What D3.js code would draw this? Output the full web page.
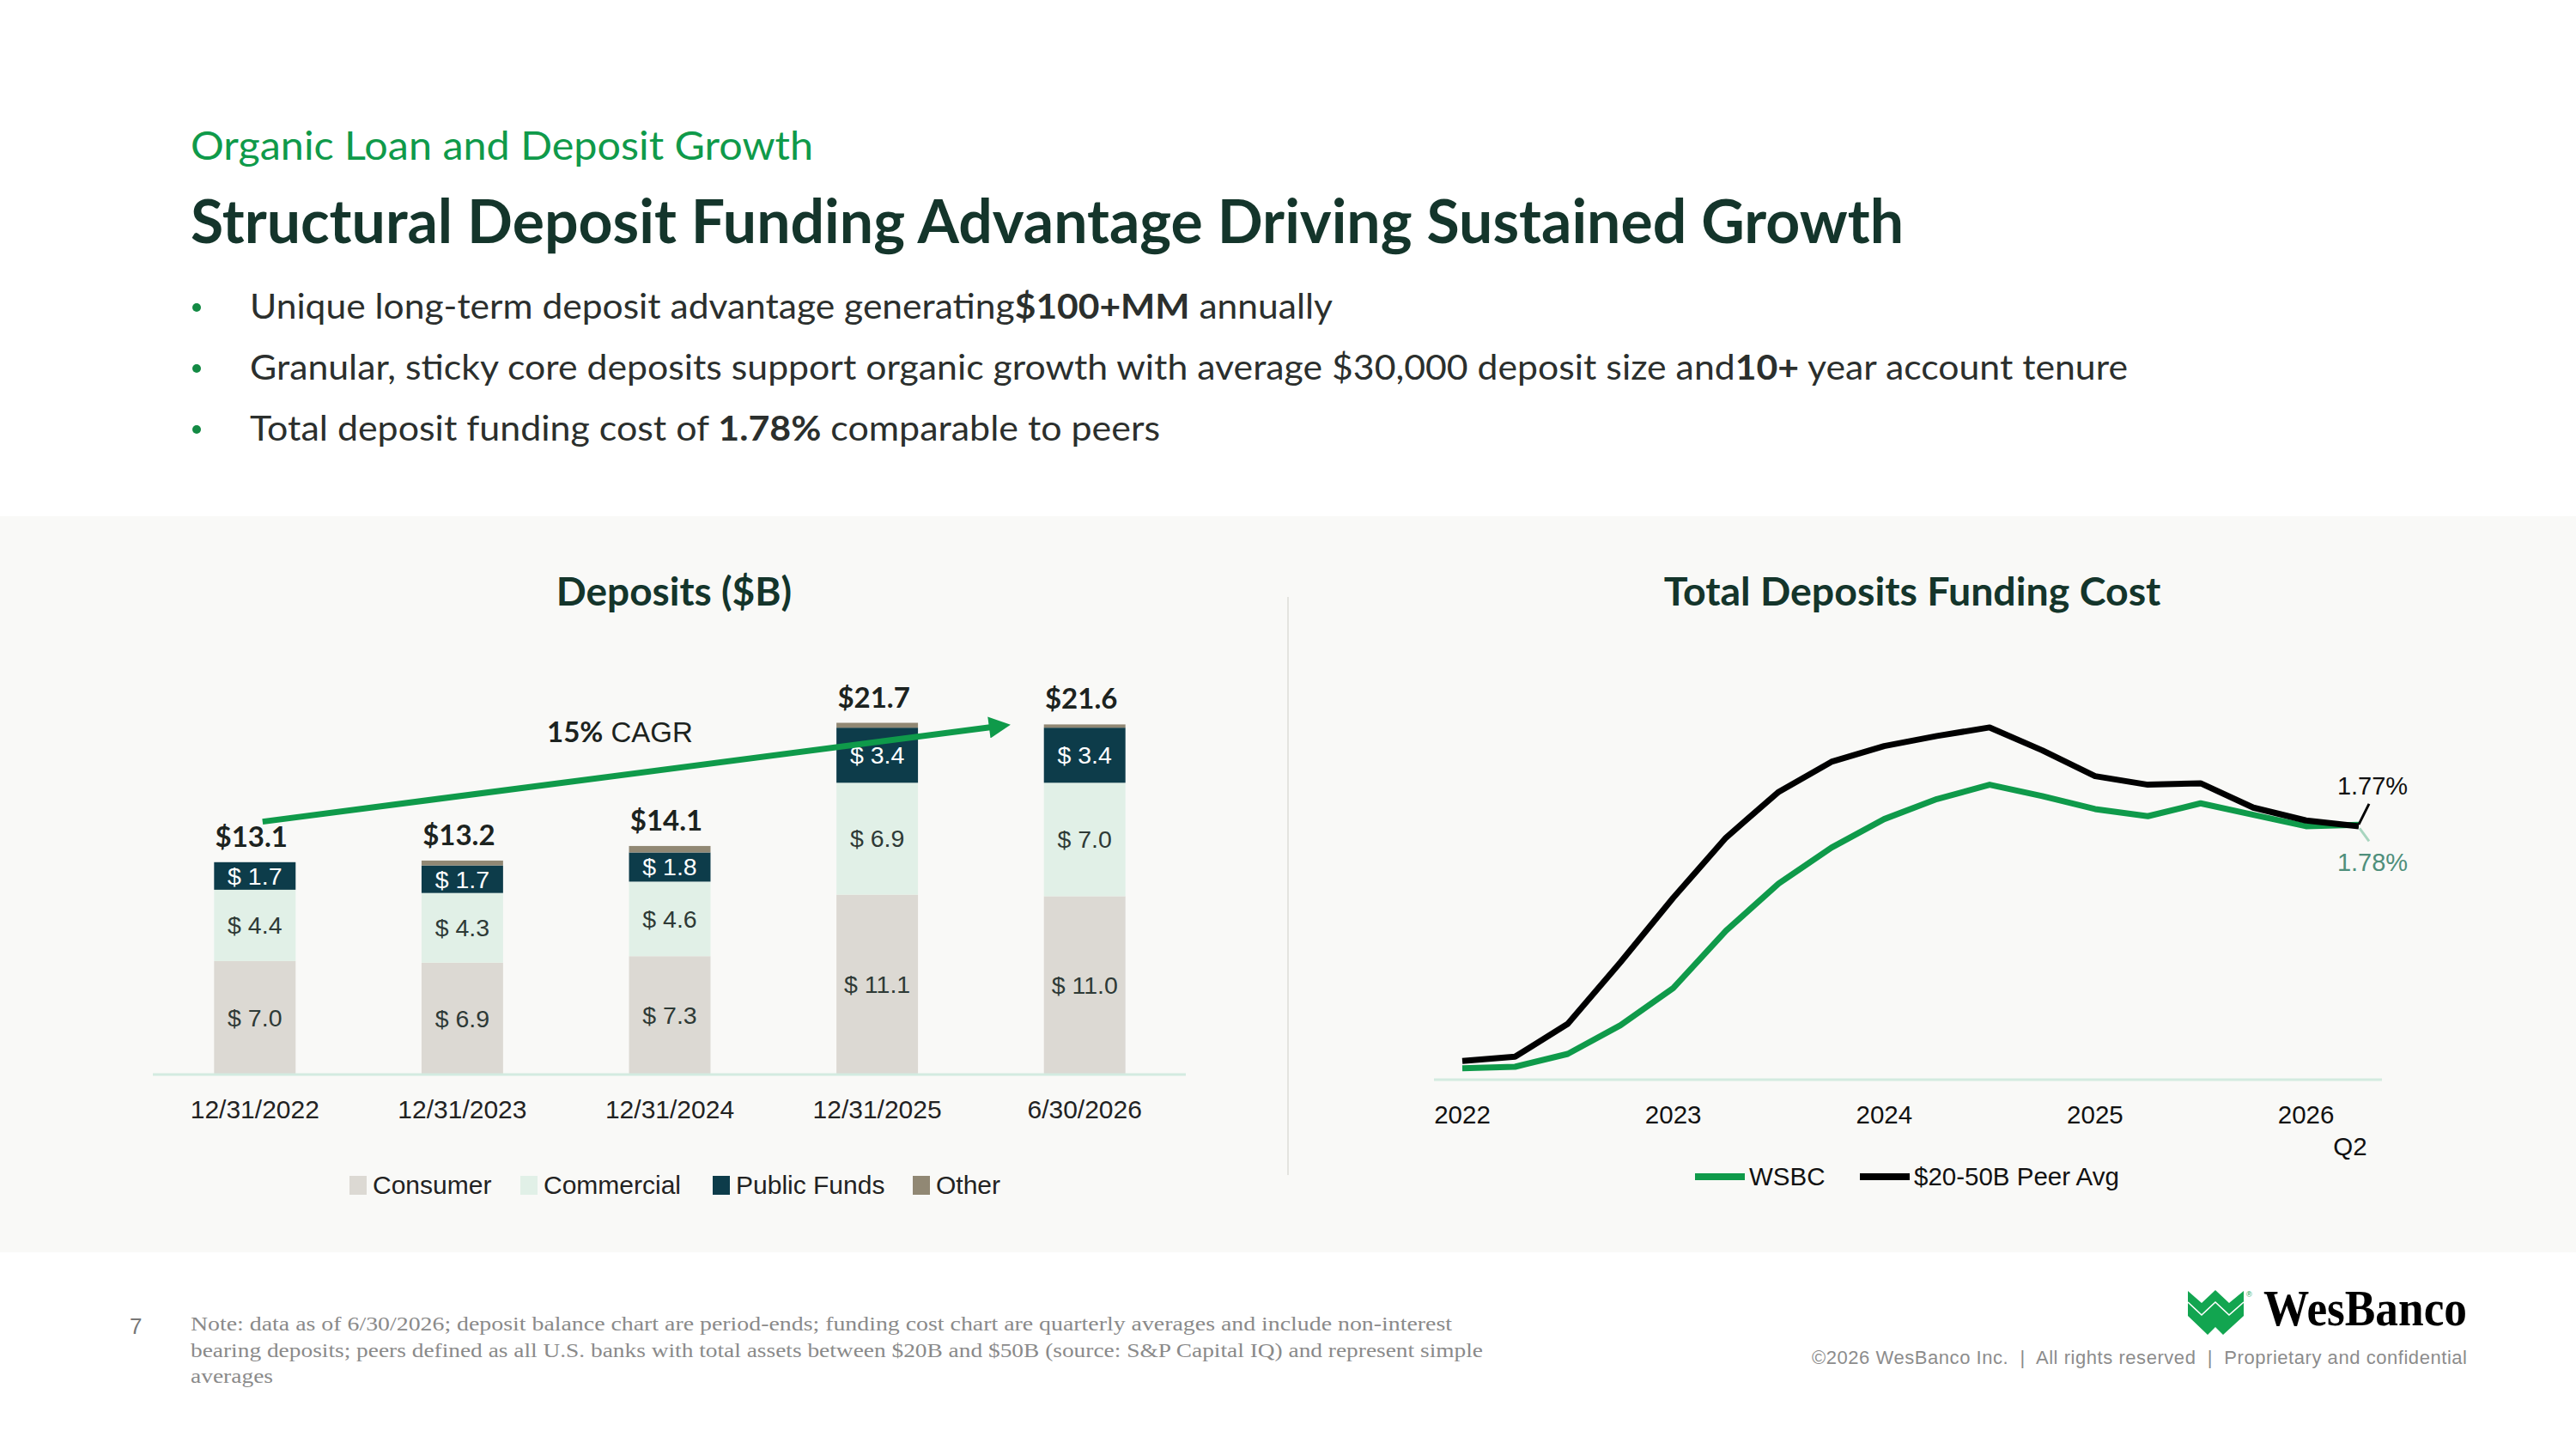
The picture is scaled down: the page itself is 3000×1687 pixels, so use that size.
<!DOCTYPE html>
<html>
<head>
<meta charset="utf-8">
<script src="https://cdn.jsdelivr.net/npm/d3@7"></script>
<style>
  html, body { margin: 0; padding: 0; background: #ffffff; }
  svg { display: block; }
</style>
</head>
<body>
<div id="slide"></div>
<script>
// ---- data ----
var categories  = ["12/31/2022", "12/31/2023", "12/31/2024", "12/31/2025", "6/30/2026"];
var consumer    = [7.0, 6.9, 7.3, 11.1, 11.0];
var commercial  = [4.4, 4.3, 4.6, 6.9, 7.0];
var publicFunds = [1.7, 1.7, 1.8, 3.4, 3.4];
var other       = [0.0, 0.3, 0.4, 0.3, 0.2];
var totals      = [13.1, 13.2, 14.1, 21.7, 21.6];
var seriesNames = ["Consumer", "Commercial", "Public Funds", "Other"];

var quarters = ["Q1 2022", "Q2 2022", "Q3 2022", "Q4 2022",
                "Q1 2023", "Q2 2023", "Q3 2023", "Q4 2023",
                "Q1 2024", "Q2 2024", "Q3 2024", "Q4 2024",
                "Q1 2025", "Q2 2025", "Q3 2025", "Q4 2025",
                "Q1 2026", "Q2 2026"];
var wsbc = [0.08, 0.09, 0.18, 0.38, 0.64, 1.04, 1.37, 1.62, 1.82, 1.96, 2.06, 1.98, 1.89, 1.84, 1.93, 1.85, 1.77, 1.78];
var peer = [0.13, 0.16, 0.39, 0.82, 1.27, 1.69, 2.01, 2.22, 2.33, 2.40, 2.46, 2.30, 2.12, 2.06, 2.07, 1.90, 1.81, 1.77];
var yearTicks = ["Q1 2022", "Q1 2023", "Q1 2024", "Q1 2025", "Q1 2026"];
var yearLabels = ["2022", "2023", "2024", "2025", "2026"];

var W = 3000, H = 1687;
var green = "#0f9a4a", dark = "#14352b", text = "#2b2f2d";
var colors = { "Consumer": "#dcd9d3", "Commercial": "#e1f0e7", "Public Funds": "#0d3c4a", "Other": "#918874" };
var labelFont = "'Liberation Sans', Arial, sans-serif";
var headFont = "Lato, 'Noto Sans', sans-serif";

var svg = d3.select("#slide").append("svg")
    .attr("width", W).attr("height", H)
    .attr("viewBox", "0 0 " + W + " " + H);

// ---- header ----
svg.append("text")
    .attr("x", 222).attr("y", 186)
    .attr("font-family", headFont).attr("font-size", 47)
    .attr("fill", green)
    .attr("textLength", 725).attr("lengthAdjust", "spacingAndGlyphs")
    .text("Organic Loan and Deposit Growth");

svg.append("text")
    .attr("x", 222).attr("y", 283)
    .attr("font-family", headFont).attr("font-size", 71).attr("font-weight", 700)
    .attr("fill", dark)
    .attr("textLength", 1995).attr("lengthAdjust", "spacingAndGlyphs")
    .text("Structural Deposit Funding Advantage Driving Sustained Growth");

var bullets = [
  { y: 371, len: 1261, parts: [["Unique long-term deposit advantage generating", 400], ["$100+MM", 700], [" annually", 400]] },
  { y: 442, len: 2187, parts: [["Granular, sticky core deposits support organic growth with average $30,000 deposit size and", 400], ["10+", 700], [" year account tenure", 400]] },
  { y: 513, len: 1060, parts: [["Total deposit funding cost of ", 400], ["1.78%", 700], [" comparable to peers", 400]] }
];
bullets.forEach(function(b) {
  svg.append("circle").attr("cx", 229).attr("cy", b.y - 13).attr("r", 5).attr("fill", "#138a44");
  var t = svg.append("text")
      .attr("x", 291).attr("y", b.y)
      .attr("font-family", headFont).attr("font-size", 41)
      .attr("fill", text)
      .attr("textLength", b.len).attr("lengthAdjust", "spacingAndGlyphs");
  b.parts.forEach(function(p) {
    t.append("tspan").attr("font-weight", p[1]).text(p[0]);
  });
});

// ---- grey panel ----
svg.append("rect").attr("x", 0).attr("y", 601).attr("width", W).attr("height", 857).attr("fill", "#f9f9f7");
svg.append("line").attr("x1", 1500).attr("x2", 1500).attr("y1", 695).attr("y2", 1368)
    .attr("stroke", "#e4e4e0").attr("stroke-width", 2);

// ---- deposits bar chart ----
svg.append("text")
    .attr("x", 785).attr("y", 705).attr("text-anchor", "middle")
    .attr("font-family", headFont).attr("font-size", 46).attr("font-weight", 700)
    .attr("fill", dark).text("Deposits ($B)");

var x = d3.scaleBand().domain(categories).range([176, 1384]).paddingInner(0.607).paddingOuter(0.3035);
var y = d3.scaleLinear().domain([0, 22]).range([1251, 1251 - 22 * 18.87]);

var rows = categories.map(function(c, i) {
  return { cat: c, "Consumer": consumer[i], "Commercial": commercial[i], "Public Funds": publicFunds[i], "Other": other[i] };
});
var stacked = d3.stack().keys(seriesNames)(rows);

var barG = svg.append("g");
stacked.forEach(function(layer) {
  var g = barG.append("g").attr("fill", colors[layer.key]);
  g.selectAll("rect").data(layer).enter().append("rect")
      .attr("x", function(d) { return x(d.data.cat); })
      .attr("width", x.bandwidth())
      .attr("y", function(d) { return y(d[1]); })
      .attr("height", function(d) { return y(d[0]) - y(d[1]); });
  if (layer.key === "Other") { return; }
  g.selectAll("text").data(layer).enter().append("text")
      .attr("x", function(d) { return x(d.data.cat) + x.bandwidth() / 2; })
      .attr("y", function(d) { return y((d[0] + d[1]) / 2) + 10; })
      .attr("text-anchor", "middle")
      .attr("font-family", labelFont).attr("font-size", 28.5)
      .attr("fill", layer.key === "Public Funds" ? "#ffffff" : "#2e3a36")
      .text(function(d) { return "$ " + (d[1] - d[0]).toFixed(1); });
});

svg.append("line").attr("x1", 178).attr("x2", 1381).attr("y1", 1251).attr("y2", 1251)
    .attr("stroke", "#d3ebe0").attr("stroke-width", 3);

svg.append("g").selectAll("text").data(categories).enter().append("text")
    .attr("x", function(d) { return x(d) + x.bandwidth() / 2; })
    .attr("y", 1302).attr("text-anchor", "middle")
    .attr("font-family", labelFont).attr("font-size", 30).attr("fill", "#222")
    .text(function(d) { return d; });

svg.append("g").selectAll("text").data(totals).enter().append("text")
    .attr("x", function(d, i) { return x(categories[i]) + x.bandwidth() / 2 - 4; })
    .attr("y", function(d) { return y(d) - 18; })
    .attr("text-anchor", "middle")
    .attr("font-family", headFont).attr("font-size", 33).attr("font-weight", 700)
    .attr("fill", "#1c2320")
    .text(function(d) { return "$" + d.toFixed(1); });

// CAGR arrow, anchored to the first and fourth bars
svg.append("defs").append("marker")
    .attr("id", "head").attr("viewBox", "0 0 10 10")
    .attr("refX", 2).attr("refY", 5)
    .attr("markerWidth", 4.4).attr("markerHeight", 3.6)
    .attr("orient", "auto")
  .append("path").attr("d", "M0,0 L10,5 L0,10 Z").attr("fill", green);

var step = x.step();
svg.append("line")
    .attr("x1", x(categories[0]) + x.bandwidth() / 2 + 9).attr("y1", y(15.6))
    .attr("x2", x(categories[3]) + x.bandwidth() / 2 + 0.56 * step).attr("y2", y(21.45))
    .attr("stroke", green).attr("stroke-width", 7)
    .attr("marker-end", "url(#head)");

var cagr = svg.append("text")
    .attr("x", 637).attr("y", 864)
    .attr("font-family", headFont).attr("font-size", 33).attr("fill", "#1c2320");
cagr.append("tspan").attr("font-weight", 700).text("15%");
cagr.append("tspan").attr("font-family", labelFont).attr("font-size", 33).text(" CAGR");

// legend
var legendX = [407, 606, 830, 1063];
var lg = svg.append("g").selectAll("g").data(seriesNames).enter().append("g")
    .attr("transform", function(d, i) { return "translate(" + legendX[i] + ",1380)"; });
lg.append("rect").attr("x", 0).attr("y", -11).attr("width", 20).attr("height", 22)
    .attr("fill", function(d) { return colors[d]; });
lg.append("text").attr("x", 27).attr("y", 10)
    .attr("font-family", labelFont).attr("font-size", 30).attr("fill", "#222")
    .text(function(d) { return d; });

// ---- funding cost line chart ----
svg.append("text")
    .attr("x", 2227).attr("y", 705).attr("text-anchor", "middle")
    .attr("font-family", headFont).attr("font-size", 46.5).attr("font-weight", 700)
    .attr("fill", dark).text("Total Deposits Funding Cost");

var lx = d3.scalePoint().domain(quarters).range([1703, 2747]);
var ly = d3.scaleLinear().domain([0, 1]).range([1257, 1257 - 166.7]);

svg.append("line").attr("x1", 1670).attr("x2", 2774).attr("y1", 1257).attr("y2", 1257)
    .attr("stroke", "#d3ebe0").attr("stroke-width", 3);

var line = d3.line()
    .x(function(d, i) { return lx(quarters[i]); })
    .y(function(d) { return ly(d); });

svg.append("path").datum(wsbc).attr("d", line)
    .attr("fill", "none").attr("stroke", green).attr("stroke-width", 7).attr("stroke-linejoin", "round");
svg.append("path").datum(peer).attr("d", line)
    .attr("fill", "none").attr("stroke", "#000").attr("stroke-width", 7).attr("stroke-linejoin", "round");

svg.append("g").selectAll("text").data(yearTicks).enter().append("text")
    .attr("x", function(d) { return lx(d); })
    .attr("y", 1308).attr("text-anchor", "middle")
    .attr("font-family", labelFont).attr("font-size", 29.5).attr("fill", "#111")
    .text(function(d, i) { return yearLabels[i]; });
svg.append("text")
    .attr("x", lx(quarters[quarters.length - 1]) - 10).attr("y", 1345).attr("text-anchor", "middle")
    .attr("font-family", labelFont).attr("font-size", 29.5).attr("fill", "#111")
    .text("Q2");

// end labels with leader lines
var last = quarters.length - 1;
var ex = lx(quarters[last]);
svg.append("line").attr("x1", ex).attr("y1", ly(peer[last]) - 2).attr("x2", ex + 12).attr("y2", ly(peer[last]) - 26)
    .attr("stroke", "#000").attr("stroke-width", 3);
svg.append("line").attr("x1", ex + 1).attr("y1", ly(wsbc[last]) + 4).attr("x2", ex + 12).attr("y2", ly(wsbc[last]) + 19)
    .attr("stroke", "#a8d5bf").attr("stroke-width", 3);
svg.append("text").attr("x", ex + 16).attr("y", ly(peer[last]) - 37).attr("text-anchor", "middle")
    .attr("font-family", labelFont).attr("font-size", 29).attr("fill", "#111")
    .text(peer[last].toFixed(2) + "%");
svg.append("text").attr("x", ex + 16).attr("y", ly(wsbc[last]) + 54).attr("text-anchor", "middle")
    .attr("font-family", labelFont).attr("font-size", 29).attr("fill", "#4f8f7b")
    .text(wsbc[last].toFixed(2) + "%");

// line legend
var lineLegend = [
  { name: "WSBC", color: green, x: 1974 },
  { name: "$20-50B Peer Avg", color: "#000", x: 2166 }
];
var ll = svg.append("g").selectAll("g").data(lineLegend).enter().append("g")
    .attr("transform", function(d) { return "translate(" + d.x + ",1370)"; });
ll.append("line").attr("x1", 0).attr("x2", 58).attr("y1", 0).attr("y2", 0)
    .attr("stroke", function(d) { return d.color; }).attr("stroke-width", 8);
ll.append("text").attr("x", 63).attr("y", 10)
    .attr("font-family", labelFont).attr("font-size", 29.5).attr("fill", "#111")
    .text(function(d) { return d.name; });

// ---- footer ----
var serif = "'Liberation Serif', 'DejaVu Serif', serif";
svg.append("text").attr("x", 151).attr("y", 1553)
    .attr("font-family", labelFont).attr("font-size", 26).attr("fill", "#777").text("7");
var notes = [
  ["Note: data as of 6/30/2026; deposit balance chart are period-ends; funding cost chart are quarterly averages and include non-interest", 1469],
  ["bearing deposits; peers defined as all U.S. banks with total assets between $20B and $50B (source: S&P Capital IQ) and represent simple", 1505],
  ["averages", 96]
];
svg.append("g").selectAll("text").data(notes).enter().append("text")
    .attr("x", 222).attr("y", function(d, i) { return 1549 + i * 30.5; })
    .attr("font-family", serif).attr("font-size", 24).attr("fill", "#8a8a8a")
    .attr("textLength", function(d) { return d[1]; }).attr("lengthAdjust", "spacingAndGlyphs")
    .text(function(d) { return d[0]; });

svg.append("text").attr("x", 2873).attr("y", 1588).attr("text-anchor", "end")
    .attr("font-family", labelFont).attr("font-size", 22).attr("fill", "#8c8c8c")
    .attr("textLength", 763).attr("lengthAdjust", "spacing")
    .attr("xml:space", "preserve")
    .text("\u00a92026 WesBanco Inc.  |  All rights reserved  |  Proprietary and confidential");

// logo
var logo = svg.append("g");
logo.append("path")
    .attr("d", "M2548,1503 L2564,1517 L2580,1502 L2596,1517 L2613,1503 L2613,1532 L2589,1554 L2580,1545 L2571,1554 L2548,1532 Z")
    .attr("fill", "#12a550");
logo.append("path")
    .attr("d", "M2548,1516 L2564,1531 L2580,1516 L2596,1531 L2613,1516")
    .attr("fill", "none").attr("stroke", "#ffffff").attr("stroke-width", 1.6);
logo.append("text").attr("x", 2616).attr("y", 1510)
    .attr("font-family", labelFont).attr("font-size", 9).attr("fill", "#12a550").text("\u00ae");
logo.append("text").attr("x", 2636).attr("y", 1543)
    .attr("font-family", serif).attr("font-size", 60).attr("font-weight", 700).attr("fill", "#000")
    .attr("textLength", 237).attr("lengthAdjust", "spacingAndGlyphs")
    .text("WesBanco");
</script>
</body>
</html>
